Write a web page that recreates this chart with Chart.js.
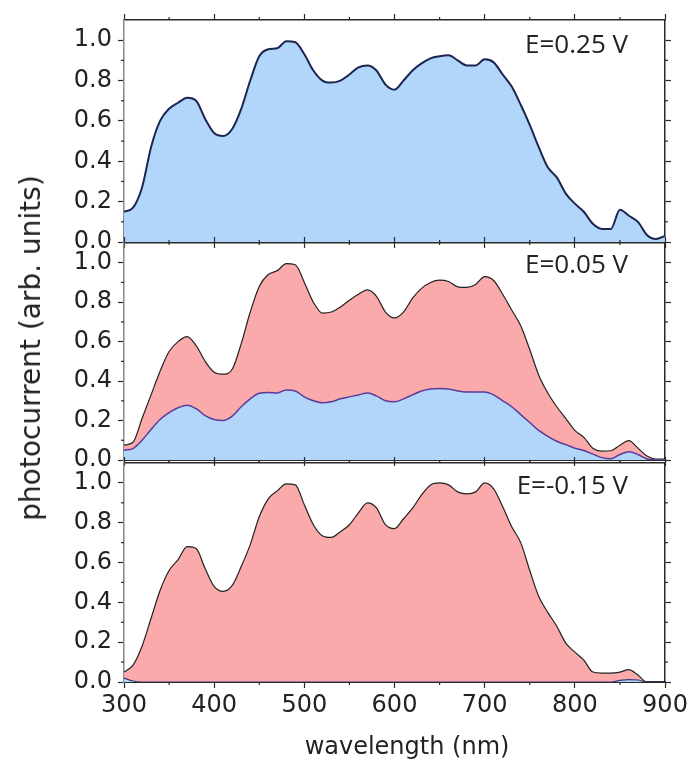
<!DOCTYPE html>
<html>
<head>
<meta charset="utf-8">
<title>photocurrent spectra</title>
<script src="https://cdn.jsdelivr.net/npm/chart.js@4.4.1/dist/chart.umd.min.js"></script>
<style>
  html, body { margin: 0; padding: 0; background: #fff; }
  #wrap { position: relative; width: 688px; height: 767px; overflow: hidden; }
  #wrap canvas { position: absolute; left: 0; top: 0; }
  .axis-title { position: absolute; font-family: "DejaVu Sans", sans-serif; color: #222; white-space: nowrap; line-height: 1; }
  #ytitle { left: 31px; top: 348px; font-size: 28px; transform: translate(-50%, -50%) rotate(-90deg); }
  #xtitle { left: 407px; top: 746px; font-size: 24px; transform: translate(-50%, -50%); }
</style>
</head>
<body>
<div id="wrap">
  <canvas id="c1" width="688" height="767"></canvas>
  <canvas id="c2" width="688" height="767"></canvas>
  <canvas id="c3" width="688" height="767"></canvas>
  <div class="axis-title" id="ytitle">photocurrent (arb. units)</div>
  <div class="axis-title" id="xtitle">wavelength (nm)</div>
</div>
<script>
// wavelength grid (nm)
const wavelength = [300, 310, 320, 330, 340, 350, 360, 370, 380, 390,
  400, 410, 420, 430, 440, 450, 460, 470, 480, 490,
  500, 510, 520, 530, 540, 550, 560, 570, 580, 590,
  600, 610, 620, 630, 640, 650, 660, 670, 680, 690,
  700, 710, 720, 730, 740, 750, 760, 770, 780, 790,
  800, 810, 820, 830, 840, 850, 860, 870, 880, 890, 900];

// E = 0.25 V
const blue025 = [0.15, 0.17, 0.27, 0.47, 0.60, 0.66, 0.69, 0.715, 0.70, 0.61,
  0.54, 0.525, 0.56, 0.66, 0.80, 0.92, 0.955, 0.96, 0.995, 0.99,
  0.93, 0.85, 0.80, 0.79, 0.80, 0.83, 0.865, 0.875, 0.85, 0.78,
  0.755, 0.80, 0.85, 0.885, 0.91, 0.92, 0.925, 0.90, 0.875, 0.875,
  0.905, 0.89, 0.83, 0.77, 0.68, 0.58, 0.47, 0.37, 0.32, 0.24,
  0.19, 0.15, 0.09, 0.065, 0.065, 0.16, 0.13, 0.10, 0.035, 0.015, 0.03];

// E = 0.05 V
const red005 = [0.075, 0.09, 0.21, 0.33, 0.45, 0.55, 0.60, 0.625, 0.58, 0.50,
  0.445, 0.435, 0.46, 0.59, 0.75, 0.88, 0.94, 0.96, 0.995, 0.99,
  0.90, 0.80, 0.745, 0.75, 0.775, 0.81, 0.84, 0.862, 0.83, 0.75,
  0.72, 0.75, 0.82, 0.87, 0.90, 0.912, 0.905, 0.878, 0.875, 0.89,
  0.93, 0.91, 0.84, 0.76, 0.68, 0.56, 0.43, 0.34, 0.27, 0.21,
  0.15, 0.115, 0.06, 0.045, 0.047, 0.075, 0.098, 0.06, 0.02, 0.005, 0.005];
const blue005 = [0.05, 0.058, 0.10, 0.155, 0.205, 0.24, 0.265, 0.278, 0.26, 0.225,
  0.205, 0.20, 0.222, 0.27, 0.31, 0.338, 0.342, 0.34, 0.355, 0.35,
  0.32, 0.30, 0.29, 0.295, 0.31, 0.32, 0.33, 0.34, 0.325, 0.30,
  0.295, 0.31, 0.33, 0.35, 0.36, 0.363, 0.36, 0.35, 0.345, 0.345,
  0.345, 0.33, 0.30, 0.27, 0.23, 0.19, 0.15, 0.12, 0.095, 0.078,
  0.06, 0.048, 0.03, 0.012, 0.006, 0.028, 0.042, 0.028, 0.005, 0, 0];

// E = -0.15 V
const red015 = [0.05, 0.085, 0.18, 0.32, 0.46, 0.56, 0.615, 0.68, 0.67, 0.57,
  0.48, 0.455, 0.485, 0.58, 0.69, 0.83, 0.92, 0.96, 0.995, 0.99,
  0.89, 0.79, 0.735, 0.726, 0.755, 0.79, 0.85, 0.90, 0.875, 0.79,
  0.77, 0.82, 0.873, 0.94, 0.99, 1.0, 0.99, 0.955, 0.945, 0.955,
  1.0, 0.97, 0.88, 0.78, 0.70, 0.56, 0.43, 0.35, 0.28, 0.195,
  0.15, 0.11, 0.05, 0.045, 0.045, 0.05, 0.062, 0.035, 0, 0, 0];
const blue015 = [0.02, 0.005, 0, 0, 0, 0, 0, 0, 0, 0,
  0, 0, 0, 0, 0, 0, 0, 0, 0, 0,
  0, 0, 0, 0, 0, 0, 0, 0, 0, 0,
  0, 0, 0, 0, 0, 0, 0, 0, 0, 0,
  0, 0, 0, 0, 0, 0, 0, 0, 0, 0,
  0, 0, 0, 0, 0, 0.008, 0.012, 0.01, 0, 0, 0];

const yTicks = [0, 0.2, 0.4, 0.6, 0.8, 1.0];
const xTicks = [300, 400, 500, 600, 700, 800, 900];

const BLUE = 'rgb(178, 214, 250)';
const RED = 'rgb(250, 170, 170)';
const AXIS = '#2a2a2a';

Chart.defaults.font.family = '"DejaVu Sans", sans-serif';
Chart.defaults.color = '#222';

function series(values) {
  return wavelength.map((w, i) => ({ x: w, y: values[i] }));
}

// E=... text in the upper right of each panel
const panelLabel = {
  id: 'panelLabel',
  afterDraw(chart, args, opts) {
    const { ctx, chartArea } = chart;
    ctx.save();
    ctx.font = '26px "Open Sans", sans-serif';
    ctx.fillStyle = '#222';
    ctx.textAlign = 'right';
    ctx.textBaseline = 'alphabetic';
    ctx.fillText(opts.text, chartArea.right - 37, chartArea.top + opts.dy);
    ctx.restore();
  }
};

// short ticks halfway between the labelled ones
const minorTicks = {
  id: 'minorTicks',
  afterDraw(chart) {
    const ctx = chart.ctx;
    ctx.save();
    ctx.strokeStyle = AXIS;
    ctx.lineWidth = 1.2;
    Object.values(chart.scales).forEach(s => {
      const vals = s.ticks.map(t => t.value);
      for (let i = 0; i < vals.length - 1; i++) {
        const p = s.getPixelForValue((vals[i] + vals[i + 1]) / 2);
        ctx.beginPath();
        if (s.position === 'bottom') { ctx.moveTo(p, s.top); ctx.lineTo(p, s.top + 3); }
        if (s.position === 'top') { ctx.moveTo(p, s.bottom); ctx.lineTo(p, s.bottom - 3); }
        if (s.position === 'left') { ctx.moveTo(s.right - 3, p); ctx.lineTo(s.right, p); }
        if (s.position === 'right') { ctx.moveTo(s.left, p); ctx.lineTo(s.left + 3, p); }
        ctx.stroke();
      }
    });
    ctx.restore();
  }
};

function noPad(s) {
  s.paddingLeft = 0; s.paddingRight = 0; s.paddingTop = 0; s.paddingBottom = 0;
}

function makePanel(id, datasets, pad, label, labelDy, showX) {
  const grid = { drawOnChartArea: false, drawTicks: true, tickLength: 6, tickColor: AXIS, tickWidth: 1.2 };
  return new Chart(document.getElementById(id), {
    type: 'line',
    data: { datasets },
    options: {
      responsive: false,
      animation: false,
      layout: { padding: { left: 0, right: 23, top: pad.top, bottom: pad.bottom } },
      elements: { point: { radius: 0 }, line: { cubicInterpolationMode: 'monotone' } },
      plugins: {
        legend: { display: false },
        tooltip: { enabled: false },
        panelLabel: { text: label, dy: labelDy }
      },
      scales: {
        x: {
          type: 'linear', position: 'bottom', min: 300, max: 900,
          afterBuildTicks: s => { s.ticks = xTicks.map(v => ({ value: v })); },
          ticks: { display: showX, padding: 3, font: { size: 24 }, maxRotation: 0 },
          grid, border: { color: AXIS, width: 2 },
          afterFit: s => { s.height = showX ? 85 : 0; noPad(s); }
        },
        x2: {
          type: 'linear', position: 'top', min: 300, max: 900,
          afterBuildTicks: s => { s.ticks = xTicks.map(v => ({ value: v })); },
          ticks: { display: false },
          grid, border: { color: AXIS, width: 1.5 },
          afterFit: s => { s.height = 0; noPad(s); }
        },
        y: {
          type: 'linear', position: 'left', min: 0, max: 1.1,
          afterBuildTicks: s => { s.ticks = yTicks.map(v => ({ value: v })); },
          ticks: { padding: 6, font: { size: 24 }, callback: v => v.toFixed(1) },
          grid, border: { color: '#8a8a8a', width: 1.5 },
          afterFit: s => { s.width = 124; noPad(s); }
        },
        y2: {
          type: 'linear', position: 'right', min: 0, max: 1.1,
          afterBuildTicks: s => { s.ticks = yTicks.map(v => ({ value: v })); },
          ticks: { display: false },
          grid, border: { color: AXIS, width: 1.5 },
          afterFit: s => { s.width = 0; noPad(s); }
        }
      }
    },
    plugins: [panelLabel, minorTicks]
  });
}

makePanel('c1', [
  { data: series(blue025), borderColor: '#1c2552', borderWidth: 2, backgroundColor: BLUE, fill: 'origin' }
], { top: 20, bottom: 525 }, 'E=0.25 V', 33, false);

makePanel('c2', [
  { data: series(blue005), borderColor: '#5a3a9c', borderWidth: 1.5, backgroundColor: BLUE, fill: 'origin' },
  { data: series(red005), borderColor: '#222', borderWidth: 1.2, backgroundColor: RED, fill: 'origin' }
], { top: 243, bottom: 307 }, 'E=0.05 V', 30, false);

makePanel('c3', [
  { data: series(blue015), borderColor: '#3a3a7a', borderWidth: 1.2, backgroundColor: BLUE, fill: 'origin' },
  { data: series(red015), borderColor: '#222', borderWidth: 1.2, backgroundColor: RED, fill: 'origin' }
], { top: 463, bottom: 0 }, 'E=-0.15 V', 31, true);
</script>
</body>
</html>
